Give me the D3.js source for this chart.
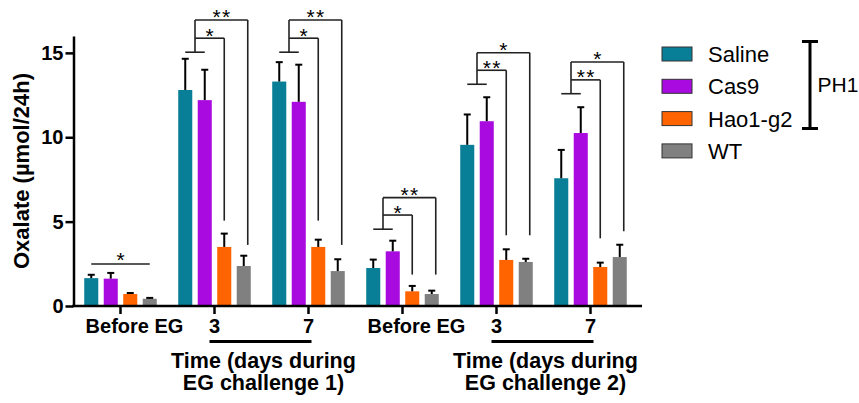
<!DOCTYPE html>
<html>
<head>
<meta charset="utf-8">
<script src="https://cdn.jsdelivr.net/npm/d3@7"></script>
<style>
  body { margin: 0; background: #fff; }
  svg { font-family: "Liberation Sans", Arial, sans-serif; }
</style>
</head>
<body>
<div id="main"></div>
<script>
const ctx = {
    w: 859,
    h: 403
};

// groups along the x axis and their tick labels
const groups = ["g1", "g2", "g3", "g4", "g5", "g6"];
const tickLabels = ["Before EG", "3", "7", "Before EG", "3", "7"];
const series = ["Saline", "Cas9", "Hao1-g2", "WT"];
const colors = ["#087e97", "#a90ae0", "#ff6400", "#808080"];

// means and SEM (µmol/24h)
const salineMean = [1.65, 12.8, 13.3, 2.25, 9.55, 7.57];
const salineErr  = [0.2, 1.85, 1.15, 0.5, 1.8, 1.68];
const cas9Mean   = [1.62, 12.2, 12.1, 3.24, 10.95, 10.25];
const cas9Err    = [0.34, 1.8, 2.2, 0.63, 1.42, 1.53];
const haoMean    = [0.71, 3.5, 3.5, 0.87, 2.73, 2.31];
const haoErr     = [0.06, 0.79, 0.43, 0.32, 0.63, 0.26];
const wtMean     = [0.43, 2.37, 2.07, 0.71, 2.61, 2.9];
const wtErr      = [0.05, 0.61, 0.7, 0.2, 0.19, 0.73];

// significance brackets (Saline+Cas9 vs Hao1-g2 / WT), y in data units
const sigGroups   = ["g2", "g3", "g4", "g5", "g6"];
const sigBase     = [15.04, 15.04, 4.55, 13.14, 12.58];
const sigHaoLevel = [15.87, 15.87, 5.39, 13.97, 13.40];
const sigWtLevel  = [16.95, 16.95, 6.42, 15.01, 14.46];
const sigHaoEnd   = [5.06, 5.06, 1.86, 4.19, 4.01];
const sigWtEnd    = [3.62, 3.62, 1.86, 4.19, 4.43];
const sigHaoLabel = ["*", "*", "*", "**", "**"];
const sigWtLabel  = ["**", "**", "**", "*", "*"];
// the single bar over the first group
const firstSigLevel = 2.49;
const firstSigLabel = "*";

const yTicks = [0, 5, 10, 15];
const phLabel = "PH1";
const timeTitles = [["Time (days during", "EG challenge 1)"], ["Time (days during", "EG challenge 2)"]];

function createViz() {
    const means = [salineMean, cas9Mean, haoMean, wtMean];
    const errs = [salineErr, cas9Err, haoErr, wtErr];
    const rows = [];
    groups.forEach((g, gi) => {
        series.forEach((s, si) => {
            rows.push({group: g, series: s, si: si, mean: means[si][gi], err: errs[si][gi]});
        });
    });

    const svg = d3.select("#main").append("svg")
        .attr("width", ctx.w)
        .attr("height", ctx.h);

    const x = d3.scaleBand().domain(groups).range([73.5, 637.5]).paddingInner(0).paddingOuter(0);
    const xs = d3.scaleBand().domain(series).range([-39, 39]).paddingInner(0.28).paddingOuter(0.14);
    const y = d3.scaleLinear().domain([0, 16]).range([306, 36]);
    const color = d3.scaleOrdinal().domain(series).range(colors);

    const cx = (g, s) => x(g) + x.bandwidth() / 2 + xs(s) + xs.bandwidth() / 2;

    // bars
    svg.append("g").selectAll("rect")
        .data(rows)
        .enter().append("rect")
        .attr("x", d => cx(d.group, d.series) - xs.bandwidth() / 2)
        .attr("y", d => y(d.mean))
        .attr("width", xs.bandwidth())
        .attr("height", d => y(0) - y(d.mean))
        .attr("fill", d => color(d.series));

    // error bars (upper only)
    const eb = svg.append("g").attr("stroke", "#000").attr("stroke-width", 2);
    eb.selectAll("line.v").data(rows).enter().append("line")
        .attr("class", "v")
        .attr("x1", d => cx(d.group, d.series))
        .attr("x2", d => cx(d.group, d.series))
        .attr("y1", d => y(d.mean))
        .attr("y2", d => y(d.mean + d.err));
    eb.selectAll("line.c").data(rows).enter().append("line")
        .attr("class", "c")
        .attr("x1", d => cx(d.group, d.series) - 3.5)
        .attr("x2", d => cx(d.group, d.series) + 3.5)
        .attr("y1", d => y(d.mean + d.err))
        .attr("y2", d => y(d.mean + d.err));

    // axes
    const yAxis = svg.append("g")
        .attr("transform", "translate(73.5,0)")
        .call(d3.axisLeft(y).tickValues(yTicks).tickSize(8).tickPadding(2).tickSizeOuter(0));
    yAxis.select(".domain").attr("stroke-width", 2.5);
    yAxis.selectAll(".tick line").attr("stroke-width", 2.5);
    yAxis.selectAll("text").attr("font-size", 20).attr("font-weight", "bold").attr("fill", "#000")
        .attr("font-family", "Liberation Sans, Arial, sans-serif");

    const xAxis = svg.append("g")
        .attr("transform", "translate(0,306)")
        .call(d3.axisBottom(x).tickFormat((d, i) => tickLabels[i]).tickSize(8).tickPadding(5).tickSizeOuter(0));
    xAxis.select(".domain").attr("d", "M72.2,0H642").attr("stroke-width", 2.5);
    xAxis.selectAll(".tick line").attr("stroke-width", 2.5);
    xAxis.selectAll("text").attr("font-size", 20).attr("font-weight", "bold").attr("fill", "#000")
        .attr("font-family", "Liberation Sans, Arial, sans-serif")
        // the long "Before EG" labels sit right of their tick in the original
        .attr("dx", (d, i) => tickLabels[i].length > 2 ? 14 : 0);

    // y title
    svg.append("text")
        .attr("transform", "translate(28.5,171) rotate(-90)")
        .attr("text-anchor", "middle")
        .attr("font-size", 22)
        .attr("font-weight", "bold")
        .text("Oxalate (µmol/24h)");

    // day 3 - 7 underlines and time titles
    [["g2", "g3"], ["g5", "g6"]].forEach((pair, i) => {
        const a = x(pair[0]) + x.bandwidth() / 2;
        const b = x(pair[1]) + x.bandwidth() / 2;
        svg.append("line")
            .attr("x1", a - 5).attr("x2", b + 3)
            .attr("y1", 341.5).attr("y2", 341.5)
            .attr("stroke", "#000").attr("stroke-width", 3);
        svg.append("text")
            .attr("x", (a + b) / 2 + 2)
            .attr("text-anchor", "middle")
            .attr("font-size", 21.5)
            .attr("font-weight", "bold")
            .selectAll("tspan").data(timeTitles[i]).enter().append("tspan")
            .attr("x", (a + b) / 2 + 2)
            .attr("y", (d, j) => 368.3 + j * 22)
            .text(d => d);
    });

    // significance
    const sg = svg.append("g");
    const sLine = (x1, y1, x2, y2) => sg.append("line")
        .attr("x1", x1).attr("y1", y1).attr("x2", x2).attr("y2", y2)
        .attr("stroke", "#222").attr("stroke-width", 1.6);
    const star = (xp, yl, t) => sg.append("text")
        .attr("x", xp + 0.75).attr("y", yl + 4.5)
        .attr("text-anchor", "middle")
        .attr("font-size", 21)
        .attr("letter-spacing", 1.5)
        .text(t);

    sLine(cx("g1", "Saline"), y(firstSigLevel), cx("g1", "WT"), y(firstSigLevel));
    star((cx("g1", "Saline") + cx("g1", "WT")) / 2, y(firstSigLevel) - 1, firstSigLabel);

    sigGroups.forEach((g, i) => {
        const s0 = cx(g, "Saline"), s1 = cx(g, "Cas9");
        const mid = (s0 + s1) / 2;
        const hx = cx(g, "Hao1-g2");
        const wx = cx(g, "WT") + 4;
        sLine(s0, y(sigBase[i]), s1, y(sigBase[i]));
        sLine(mid, y(sigBase[i]), mid, y(sigWtLevel[i]));
        sLine(mid, y(sigHaoLevel[i]), hx, y(sigHaoLevel[i]));
        sLine(hx, y(sigHaoLevel[i]), hx, y(sigHaoEnd[i]));
        sLine(mid, y(sigWtLevel[i]), wx, y(sigWtLevel[i]));
        sLine(wx, y(sigWtLevel[i]), wx, y(sigWtEnd[i]));
        star((mid + hx) / 2, y(sigHaoLevel[i]), sigHaoLabel[i]);
        star((mid + wx) / 2, y(sigWtLevel[i]), sigWtLabel[i]);
    });

    // legend
    const lg = svg.append("g").attr("transform", "translate(662,47)");
    const item = lg.selectAll("g").data(series).enter().append("g")
        .attr("transform", (d, i) => `translate(0,${i * 32.3})`);
    item.append("rect")
        .attr("width", 30).attr("height", 14)
        .attr("fill", d => color(d))
        .attr("stroke", "#333").attr("stroke-width", 1);
    item.append("text")
        .attr("x", 46).attr("y", 15)
        .attr("font-size", 22)
        .text(d => d);

    // PH1 bracket
    const br = svg.append("g").attr("stroke", "#000").attr("stroke-width", 3);
    br.append("line").attr("x1", 810).attr("x2", 810).attr("y1", 41.5).attr("y2", 128.5);
    br.append("line").attr("x1", 802).attr("x2", 818).attr("y1", 41.5).attr("y2", 41.5);
    br.append("line").attr("x1", 802).attr("x2", 818).attr("y1", 128.5).attr("y2", 128.5);
    svg.append("text")
        .attr("x", 817.5).attr("y", 91.5)
        .attr("font-size", 21)
        .text(phLabel);
}

createViz();
</script>
</body>
</html>
